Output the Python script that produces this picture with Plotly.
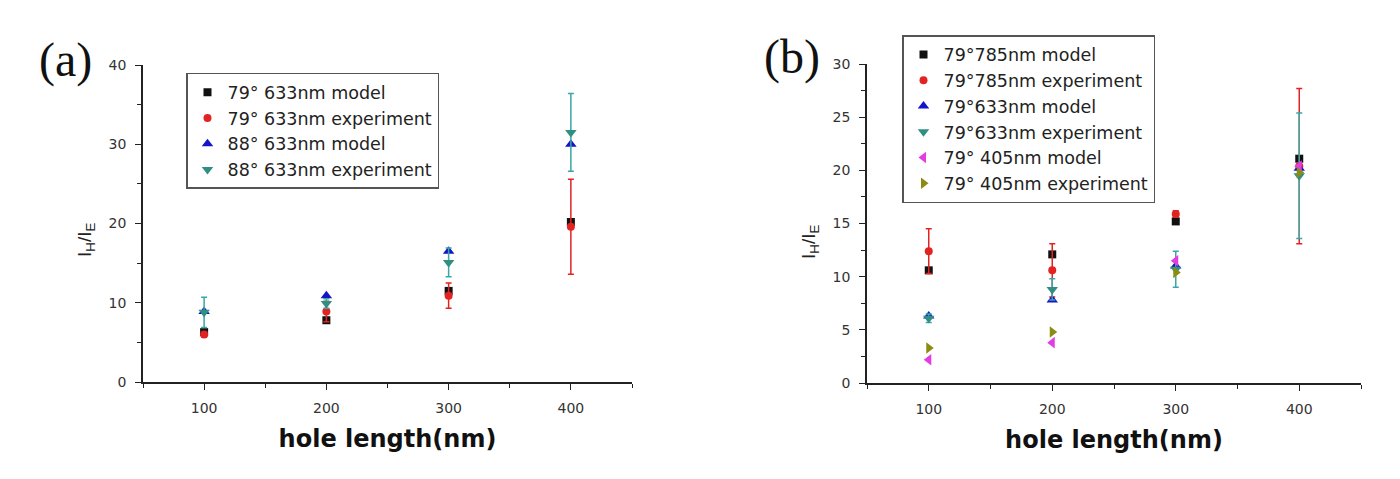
import plotly.graph_objects as go

# ---------------- data ----------------
hole_length = [100, 200, 300, 400]

# panel (a)
a_79_633_model = [6.3, 7.8, 11.5, 20.2]
a_79_633_exp = [6.0, 8.9, 10.9, 19.6]
a_79_633_exp_err = [0.3, 1.3, 1.6, 6.0]
a_88_633_model = [8.9, 10.9, 16.5, 30.0]
a_88_633_exp = [8.8, 9.9, 15.1, 31.5]
a_88_633_exp_err = [1.9, 0.6, 1.8, 4.9]

# panel (b)
b_79_785_model = [10.6, 12.1, 15.2, 21.1]
b_79_785_exp = [12.4, 10.6, 15.9, 20.4]
b_79_785_exp_err = [2.1, 2.5, 0.3, 7.3]
b_79_633_model = [6.3, 7.8, 11.0, 20.2]
b_79_633_exp = [6.1, 8.8, 10.7, 19.5]
b_79_633_exp_err = [0.4, 1.0, 1.7, 5.9]
b_79_405_model = [2.2, 3.8, 11.5, 20.4]
b_79_405_exp = [3.3, 4.8, 10.4, 19.8]

names_a = ["79° 633nm model", "79° 633nm experiment",
           "88° 633nm model", "88° 633nm experiment"]
names_b = ["79°785nm model", "79°785nm experiment", "79°633nm model",
           "79°633nm experiment", "79° 405nm model", "79° 405nm experiment"]

BLACK = "#111111"
RED = "#e32222"
BLUE = "#1414c8"
TEAL = "#2f8f82"
TEAL_ERR = "#3aa6a6"
MAGENTA = "#e23ce2"
OLIVE = "#8c8c14"

FONT = "DejaVu Sans, sans-serif"
FONT_A = "Arial, Liberation Sans, sans-serif"

fig = go.Figure()


def add(x, y, name, symbol, color, size, xa, ya, legend, err=None, errcolor=None):
    kw = {}
    if err is not None:
        kw["error_y"] = dict(type="data", array=err, visible=True,
                             color=errcolor or color, thickness=1.5, width=3)
    fig.add_trace(go.Scatter(
        x=x, y=y, mode="markers", name=name,
        marker=dict(symbol=symbol, color=color, size=size, line=dict(width=0)),
        xaxis=xa, yaxis=ya, legend=legend, **kw))


# panel (a)
add(hole_length, a_79_633_model, names_a[0], "square", BLACK, 8, "x", "y", "legend")
add(hole_length, a_79_633_exp, names_a[1], "circle", RED, 8, "x", "y", "legend",
    a_79_633_exp_err)
add(hole_length, a_88_633_model, names_a[2], "triangle-up", BLUE, 10, "x", "y", "legend")
add(hole_length, a_88_633_exp, names_a[3], "triangle-down", TEAL, 10, "x", "y", "legend",
    a_88_633_exp_err, TEAL_ERR)

# panel (b)
add(hole_length, b_79_785_model, names_b[0], "square", BLACK, 8, "x2", "y2", "legend2")
add(hole_length, b_79_785_exp, names_b[1], "circle", RED, 8, "x2", "y2", "legend2",
    b_79_785_exp_err)
add(hole_length, b_79_633_model, names_b[2], "triangle-up", BLUE, 10, "x2", "y2", "legend2")
add(hole_length, b_79_633_exp, names_b[3], "triangle-down", TEAL, 10, "x2", "y2", "legend2",
    b_79_633_exp_err, TEAL_ERR)
add(hole_length, b_79_405_model, names_b[4], "triangle-left", MAGENTA, 10, "x2", "y2", "legend2")
add(hole_length, b_79_405_exp, names_b[5], "triangle-right", OLIVE, 10, "x2", "y2", "legend2")

W, H = 1400, 479


def px_x(p):
    return p / W


def px_y(p):
    return 1 - p / H


axis_common = dict(
    showline=True, linecolor="#222", linewidth=1.5, mirror=False,
    ticks="outside", ticklen=6, tickwidth=1.3, tickcolor="#222",
    showgrid=False, zeroline=False,
    tickfont=dict(family=FONT, size=14, color="#333"),
)

xaxis_common = dict(axis_common, range=[50, 450], dtick=100, tick0=0,
                    minor=dict(ticks="outside", ticklen=4, dtick=50, tick0=0,
                               tickcolor="#222", tickwidth=1.2, showgrid=False),
                    ticklabelstandoff=6,
                    title=dict(text="<b>hole length(nm)</b>",
                               font=dict(family=FONT, size=24, color="#111"),
                               standoff=16))

legend_common = dict(xanchor="left", yanchor="top",
                     bgcolor="white", bordercolor="#555", borderwidth=1.5,
                     font=dict(family=FONT, size=17.5, color="#222"),
                     itemsizing="trace", tracegroupgap=0)

fig.update_layout(
    width=W, height=H,
    margin=dict(l=0, r=0, t=0, b=0),
    paper_bgcolor="white", plot_bgcolor="white",
    xaxis=dict(xaxis_common, domain=[px_x(143), px_x(632)], anchor="y"),
    yaxis=dict(axis_common, domain=[px_y(387), px_y(59)], anchor="x",
               range=[0, 40], dtick=10,
               minor=dict(ticks="outside", ticklen=4, dtick=5,
                          tickcolor="#222", tickwidth=1.2, showgrid=False),
               ticklabelstandoff=6),
    xaxis2=dict(xaxis_common, domain=[px_x(867), px_x(1361)], anchor="y2"),
    yaxis2=dict(axis_common, domain=[px_y(388), px_y(58)], anchor="x2",
                range=[0, 30], dtick=5,
                minor=dict(ticks="outside", ticklen=4, dtick=2.5,
                           tickcolor="#222", tickwidth=1.2, showgrid=False),
                ticklabelstandoff=6),
    legend=dict(legend_common, x=px_x(186), y=px_y(67)),
    legend2=dict(legend_common, x=px_x(902), y=px_y(28)),
    showlegend=True,
)

SERIF = "Liberation Serif, Times New Roman, serif"
annotations = [
    dict(text="(a)", x=px_x(65), y=px_y(54), xref="paper", yref="paper",
         xanchor="center", yanchor="middle", showarrow=False,
         font=dict(family=SERIF, size=48, color="#111")),
    dict(text="(b)", x=px_x(792), y=px_y(51), xref="paper", yref="paper",
         xanchor="center", yanchor="middle", showarrow=False,
         font=dict(family=SERIF, size=48, color="#111")),
    dict(text="I<sub>H</sub>/I<sub>E</sub>", x=px_x(86), y=px_y(240),
         xref="paper", yref="paper", textangle=-90, showarrow=False,
         xanchor="center", yanchor="middle",
         font=dict(family=FONT_A, size=19, color="#222")),
    dict(text="I<sub>H</sub>/I<sub>E</sub>", x=px_x(810), y=px_y(242),
         xref="paper", yref="paper", textangle=-90, showarrow=False,
         xanchor="center", yanchor="middle",
         font=dict(family=FONT_A, size=19, color="#222")),
]
fig.update_layout(annotations=annotations)

fig.write_html("out.html")
